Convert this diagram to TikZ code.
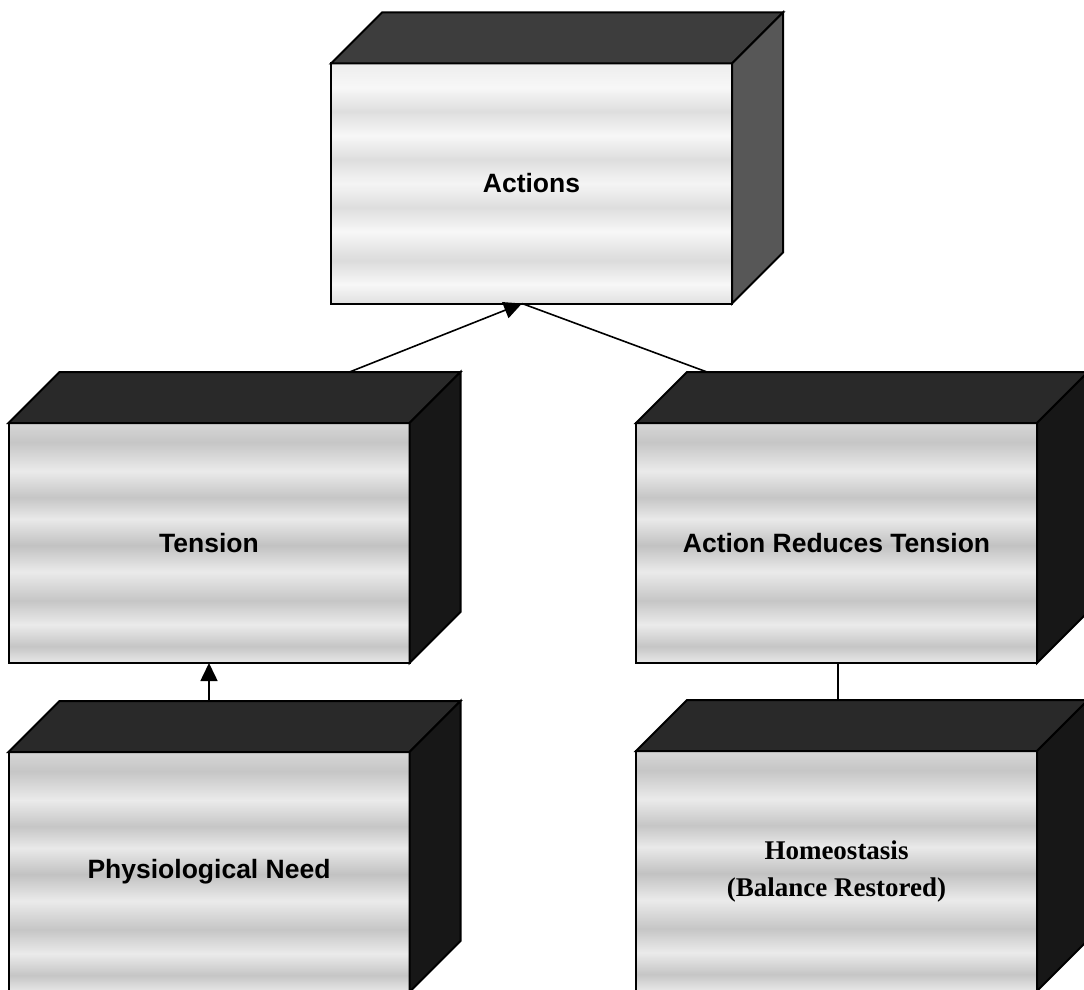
\documentclass[tikz,border=0pt]{standalone}
\usepackage{fontspec}
\setmainfont{Liberation Sans}
\newfontfamily\serifbold{Liberation Serif}
\usetikzlibrary{arrows.meta}

% banded grey fill of the front faces (bands run across the face)
\pgfdeclareverticalshading{bandsdark}{100bp}{%
  color(0bp)=(gray!14); color(25bp)=(gray!18);
  color(28.5bp)=(gray!45); color(33bp)=(gray!16);
  color(38bp)=(gray!45); color(44bp)=(gray!16);
  color(49.5bp)=(gray!48); color(55bp)=(gray!17);
  color(59.5bp)=(gray!45); color(65bp)=(gray!16);
  color(71bp)=(gray!45); color(75bp)=(gray!32); color(100bp)=(gray!32)}
\pgfdeclareverticalshading{bandslight}{100bp}{%
  color(0bp)=(gray!20); color(25bp)=(gray!24);
  color(29bp)=(gray!6); color(34bp)=(gray!28);
  color(40bp)=(gray!6); color(45bp)=(gray!26);
  color(50bp)=(gray!8); color(55bp)=(gray!26);
  color(60bp)=(gray!6); color(65bp)=(gray!26);
  color(70bp)=(gray!6); color(75bp)=(gray!14); color(100bp)=(gray!14)}

\begin{document}
\begin{tikzpicture}[x=1pt,y=-1pt,
  edge/.style={draw=black, line width=2pt, line join=miter},
  frontface/.style={edge, shading=bandsdark, inner sep=0pt, outer sep=0pt,
    minimum width=401pt, minimum height=240pt, align=center,
    font=\bfseries\fontsize{26.5}{32}\selectfont},
  lightfront/.style={frontface, shading=bandslight},
  topface/.style={edge, fill=black!84},
  sideface/.style={edge, fill=black!91},
  lighttop/.style={edge, fill=black!76},
  lightside/.style={edge, fill=black!66},
  link/.style={draw=black, line width=1.6pt},
  headtip/.style={-{Triangle[width=17pt,length=18pt]}}
]
\useasboundingbox (0,0) rectangle (1084,990);

% front faces
\node[lightfront] (act)   at (531.5,183.5) {Actions};
\node[frontface]  (tens)  at (209,543)     {Tension};
\node[frontface]  (red)   at (836.5,543)   {Action Reduces Tension};
\node[frontface]  (need)  at (209,872)     {Physiological Need};
\node[frontface, font=\serifbold\bfseries\fontsize{27}{37}\selectfont]
                  (homeo) at (836.5,871)   {Homeostasis\\(Balance Restored)};

% top and right faces of each block
\foreach \b/\t/\s in {act/lighttop/lightside, tens/topface/sideface,
                      red/topface/sideface, need/topface/sideface,
                      homeo/topface/sideface}{
  \draw[\t] (\b.north west) -- ([shift={(51,-51)}]\b.north west)
        -- ([shift={(51,-51)}]\b.north east) -- (\b.north east) -- cycle;
  \draw[\s] (\b.north east) -- ([shift={(51,-51)}]\b.north east)
        -- ([shift={(51,-51)}]\b.south east) -- (\b.south east) -- cycle;
}

% connector end points on the blocks
\coordinate (actin)  at ([xshift=-9.5pt]act.south);
\coordinate (tensup) at ([shift={(341,-51)}]tens.north west);
\coordinate (redup)  at ([shift={(71,-51)}]red.north west);
\coordinate (tensin) at (tens.south);
\coordinate (needup) at ([yshift=50pt]need.north);
\coordinate (redout) at ([xshift=1.5pt]red.south);
\coordinate (homeup) at ([yshift=50pt]homeo.north);

% connectors
\draw[link, headtip] (tensup) -- (actin);
\draw[link] (redup) -- (actin);
\draw[link, headtip] (needup) -- (tensin);
\draw[link] (redout) -- (redout |- homeup);
\end{tikzpicture}
\end{document}
